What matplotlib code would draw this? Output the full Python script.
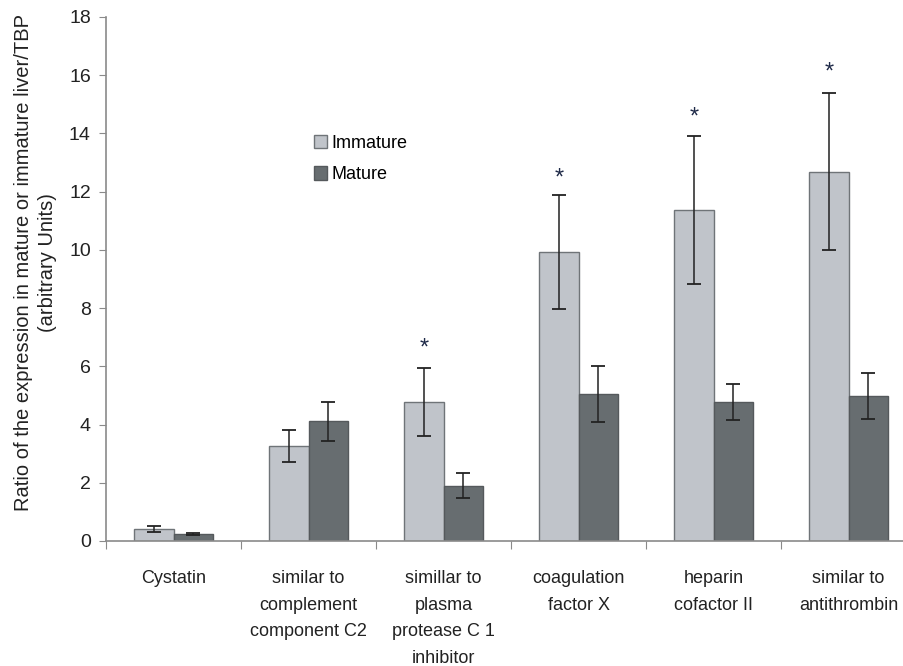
import matplotlib
matplotlib.use("Agg")
import matplotlib.pyplot as plt
import numpy as np
from matplotlib.patches import Patch

plt.rcParams['font.family'] = ['Liberation Sans', 'DejaVu Sans']

# datos
categorias = ["Cystatin", "similar to\ncomplement\ncomponent C2",
              "simillar to\nplasma\nprotease C 1\ninhibitor",
              "coagulation\nfactor X", "heparin\ncofactor II",
              "similar to\nantithrombin"]
inmaduro = [0.41, 3.26, 4.77, 9.92, 11.37, 12.68]
inmaduro_err = [0.09, 0.56, 1.18, 1.96, 2.54, 2.70]
maduro = [0.25, 4.12, 1.90, 5.05, 4.78, 4.99]
maduro_err = [0.03, 0.67, 0.43, 0.95, 0.61, 0.79]
# asteriscos (posicion y del signo)
estrella_cat = [2, 3, 4, 5]
estrella_y = [6.6, 12.45, 14.55, 16.1]

c_inm = "#c0c4ca"
c_mad = "#676d70"
gris = "#8a8a8a"

fig = plt.figure(figsize=(9.04, 6.66), dpi=100)
ax = fig.add_axes([0.1173, 0.1877, 0.8827, 0.7868])

x = np.arange(len(categorias))
w = 0.29
ax.bar(x - w/2, inmaduro, w, color=c_inm, edgecolor="#6f7478", linewidth=1.0, zorder=2)
ax.bar(x + w/2, maduro, w, color=c_mad, edgecolor="#55595c", linewidth=1.0, zorder=2)
ax.errorbar(x - w/2, inmaduro, yerr=inmaduro_err, fmt="none", ecolor="#222222",
            elinewidth=1.1, capsize=5, capthick=1.3, zorder=3)
ax.errorbar(x + w/2, maduro, yerr=maduro_err, fmt="none", ecolor="#222222",
            elinewidth=1.1, capsize=5, capthick=1.3, zorder=3)

for c, yv in zip(estrella_cat, estrella_y):
    ax.text(c - w/2, yv, "*", ha="center", va="center", fontsize=17, color="#1f2a48")

ax.set_ylim(0, 18)
ax.set_xlim(-0.5, 5.41)
ax.set_yticks(np.arange(0, 19, 2))
ax.tick_params(axis="y", labelsize=14, length=5, color=gris, pad=6, labelcolor="#222222")

# separadores de categoria como ticks mayores, etiquetas en los menores
ax.set_xticks(np.arange(len(categorias)) - 0.5)
ax.set_xticklabels([])
ax.tick_params(axis="x", which="major", length=6, color=gris)
ax.set_xticks(x, minor=True)
ax.set_xticklabels(categorias, minor=True, fontsize=13, linespacing=1.73, color="#222222")
ax.tick_params(axis="x", which="minor", length=0, pad=21)

for s in ["top", "right"]:
    ax.spines[s].set_visible(False)
ax.spines["left"].set_color(gris)
ax.spines["bottom"].set_color(gris)
ax.spines["left"].set_linewidth(1.2)
ax.spines["bottom"].set_linewidth(1.2)

ax.set_ylabel("Ratio of the expression in mature or immature liver/TBP\n(arbitrary Units)",
              fontsize=14.5, linespacing=1.3, color="#222222")
ax.yaxis.set_label_coords(-0.062, 0.532)

leyenda = [Patch(facecolor=c_inm, edgecolor="#6f7478", label="Immature"),
           Patch(facecolor=c_mad, edgecolor="#55595c", label="Mature")]
ax.legend(handles=leyenda, loc="upper left", bbox_to_anchor=(0.24, 0.806), frameon=False,
          fontsize=13, handlelength=0.75, handleheight=0.75, handletextpad=0.25,
          labelspacing=0.8)

fig.savefig("out.png", dpi=100)
